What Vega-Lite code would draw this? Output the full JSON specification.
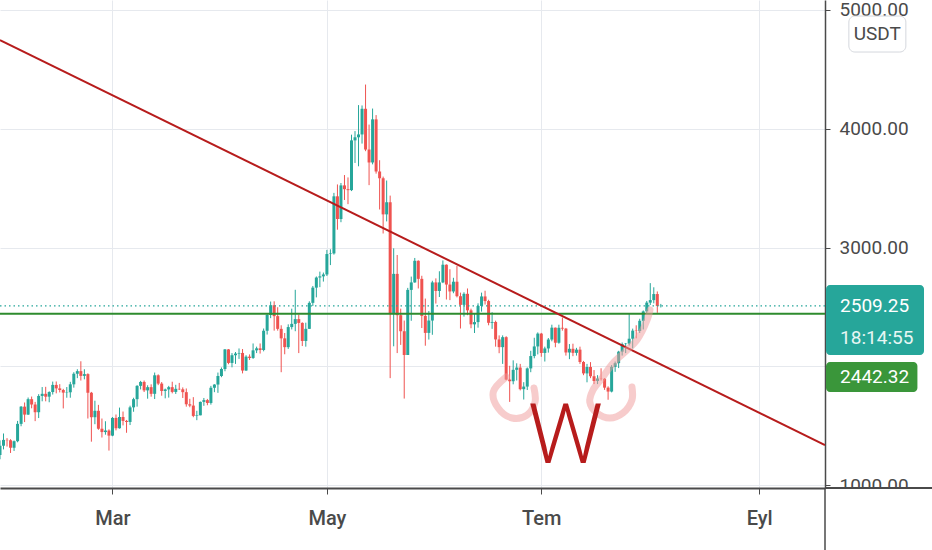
{
  "$schema": "https://vega.github.io/schema/vega-lite/v6.json",
  "width": 825,
  "height": 488,
  "autosize": {"type": "none"},
  "padding": {"left": 0, "top": 0, "right": 107, "bottom": 62},
  "background": "#ffffff",
  "config": {
    "view": {"stroke": null},
    "font": "Roboto, sans-serif",
    "axis": {
      "labelFont": "Roboto, sans-serif",
      "labelFontSize": 19,
      "labelColor": "#4a4a4a",
      "domainColor": "#4a4a4a",
      "tickColor": "#4a4a4a",
      "gridColor": "#e6e9ee",
      "gridWidth": 1
    }
  },
  "datasets": {
    "candles": [
      {"d":"2021-01-28","o":1253,"h":1376,"l":1217,"c":1331},
      {"d":"2021-01-29","o":1331,"h":1434,"l":1300,"c":1380},
      {"d":"2021-01-30","o":1380,"h":1395,"l":1324,"c":1377},
      {"d":"2021-01-31","o":1377,"h":1386,"l":1270,"c":1314},
      {"d":"2021-02-01","o":1314,"h":1375,"l":1287,"c":1369},
      {"d":"2021-02-02","o":1369,"h":1540,"l":1360,"c":1515},
      {"d":"2021-02-03","o":1515,"h":1665,"l":1495,"c":1660},
      {"d":"2021-02-04","o":1660,"h":1695,"l":1530,"c":1593},
      {"d":"2021-02-05","o":1593,"h":1737,"l":1590,"c":1723},
      {"d":"2021-02-06","o":1723,"h":1745,"l":1646,"c":1678},
      {"d":"2021-02-07","o":1678,"h":1700,"l":1538,"c":1613},
      {"d":"2021-02-08","o":1613,"h":1765,"l":1564,"c":1750},
      {"d":"2021-02-09","o":1750,"h":1825,"l":1705,"c":1768},
      {"d":"2021-02-10","o":1768,"h":1827,"l":1705,"c":1744},
      {"d":"2021-02-11","o":1744,"h":1789,"l":1697,"c":1783},
      {"d":"2021-02-12","o":1783,"h":1871,"l":1762,"c":1843},
      {"d":"2021-02-13","o":1843,"h":1872,"l":1772,"c":1814},
      {"d":"2021-02-14","o":1814,"h":1849,"l":1780,"c":1800},
      {"d":"2021-02-15","o":1800,"h":1810,"l":1645,"c":1778},
      {"d":"2021-02-16","o":1778,"h":1825,"l":1735,"c":1781},
      {"d":"2021-02-17","o":1781,"h":1869,"l":1735,"c":1848},
      {"d":"2021-02-18","o":1848,"h":1950,"l":1820,"c":1937},
      {"d":"2021-02-19","o":1937,"h":1975,"l":1900,"c":1959},
      {"d":"2021-02-20","o":1959,"h":2042,"l":1880,"c":1919},
      {"d":"2021-02-21","o":1919,"h":1975,"l":1890,"c":1934},
      {"d":"2021-02-22","o":1934,"h":1941,"l":1560,"c":1777},
      {"d":"2021-02-23","o":1777,"h":1784,"l":1365,"c":1571},
      {"d":"2021-02-24","o":1571,"h":1710,"l":1512,"c":1625},
      {"d":"2021-02-25","o":1625,"h":1675,"l":1465,"c":1474},
      {"d":"2021-02-26","o":1474,"h":1560,"l":1400,"c":1446},
      {"d":"2021-02-27","o":1446,"h":1537,"l":1424,"c":1459},
      {"d":"2021-02-28","o":1459,"h":1469,"l":1290,"c":1416},
      {"d":"2021-03-01","o":1416,"h":1573,"l":1411,"c":1565},
      {"d":"2021-03-02","o":1565,"h":1594,"l":1460,"c":1478},
      {"d":"2021-03-03","o":1478,"h":1652,"l":1475,"c":1573},
      {"d":"2021-03-04","o":1573,"h":1619,"l":1502,"c":1540},
      {"d":"2021-03-05","o":1540,"h":1548,"l":1440,"c":1531},
      {"d":"2021-03-06","o":1531,"h":1668,"l":1505,"c":1654},
      {"d":"2021-03-07","o":1654,"h":1735,"l":1617,"c":1723},
      {"d":"2021-03-08","o":1723,"h":1841,"l":1660,"c":1835},
      {"d":"2021-03-09","o":1835,"h":1877,"l":1805,"c":1868},
      {"d":"2021-03-10","o":1868,"h":1880,"l":1783,"c":1797},
      {"d":"2021-03-11","o":1797,"h":1840,"l":1727,"c":1824},
      {"d":"2021-03-12","o":1824,"h":1848,"l":1744,"c":1768},
      {"d":"2021-03-13","o":1768,"h":1947,"l":1724,"c":1924},
      {"d":"2021-03-14","o":1924,"h":1932,"l":1841,"c":1854},
      {"d":"2021-03-15","o":1854,"h":1867,"l":1752,"c":1792},
      {"d":"2021-03-16","o":1792,"h":1812,"l":1730,"c":1805},
      {"d":"2021-03-17","o":1805,"h":1835,"l":1736,"c":1824},
      {"d":"2021-03-18","o":1824,"h":1870,"l":1772,"c":1784},
      {"d":"2021-03-19","o":1784,"h":1844,"l":1767,"c":1810},
      {"d":"2021-03-20","o":1810,"h":1860,"l":1800,"c":1806},
      {"d":"2021-03-21","o":1806,"h":1822,"l":1733,"c":1782},
      {"d":"2021-03-22","o":1782,"h":1813,"l":1660,"c":1680},
      {"d":"2021-03-23","o":1680,"h":1726,"l":1655,"c":1669},
      {"d":"2021-03-24","o":1669,"h":1740,"l":1571,"c":1582},
      {"d":"2021-03-25","o":1582,"h":1625,"l":1546,"c":1587},
      {"d":"2021-03-26","o":1587,"h":1703,"l":1587,"c":1700},
      {"d":"2021-03-27","o":1700,"h":1733,"l":1667,"c":1715},
      {"d":"2021-03-28","o":1715,"h":1725,"l":1672,"c":1691},
      {"d":"2021-03-29","o":1691,"h":1835,"l":1677,"c":1819},
      {"d":"2021-03-30","o":1819,"h":1849,"l":1782,"c":1846},
      {"d":"2021-03-31","o":1846,"h":1947,"l":1776,"c":1918},
      {"d":"2021-04-01","o":1918,"h":1990,"l":1908,"c":1977},
      {"d":"2021-04-02","o":1977,"h":2145,"l":1958,"c":2142},
      {"d":"2021-04-03","o":2142,"h":2145,"l":2017,"c":2028},
      {"d":"2021-04-04","o":2028,"h":2111,"l":1991,"c":2093},
      {"d":"2021-04-05","o":2093,"h":2120,"l":2020,"c":2107},
      {"d":"2021-04-06","o":2107,"h":2150,"l":2062,"c":2112},
      {"d":"2021-04-07","o":2112,"h":2145,"l":1940,"c":1964},
      {"d":"2021-04-08","o":1964,"h":2093,"l":1961,"c":2081},
      {"d":"2021-04-09","o":2081,"h":2100,"l":2053,"c":2070},
      {"d":"2021-04-10","o":2070,"h":2192,"l":2062,"c":2134},
      {"d":"2021-04-11","o":2134,"h":2165,"l":2111,"c":2151},
      {"d":"2021-04-12","o":2151,"h":2192,"l":2107,"c":2137},
      {"d":"2021-04-13","o":2137,"h":2318,"l":2126,"c":2299},
      {"d":"2021-04-14","o":2299,"h":2448,"l":2267,"c":2432},
      {"d":"2021-04-15","o":2432,"h":2545,"l":2405,"c":2514},
      {"d":"2021-04-16","o":2514,"h":2547,"l":2300,"c":2422},
      {"d":"2021-04-17","o":2422,"h":2497,"l":2300,"c":2315},
      {"d":"2021-04-18","o":2315,"h":2345,"l":1950,"c":2235},
      {"d":"2021-04-19","o":2235,"h":2280,"l":2101,"c":2161},
      {"d":"2021-04-20","o":2161,"h":2353,"l":2146,"c":2330},
      {"d":"2021-04-21","o":2330,"h":2485,"l":2310,"c":2357},
      {"d":"2021-04-22","o":2357,"h":2644,"l":2295,"c":2397},
      {"d":"2021-04-23","o":2397,"h":2435,"l":2111,"c":2365},
      {"d":"2021-04-24","o":2365,"h":2370,"l":2170,"c":2213},
      {"d":"2021-04-25","o":2213,"h":2367,"l":2165,"c":2315},
      {"d":"2021-04-26","o":2315,"h":2547,"l":2314,"c":2534},
      {"d":"2021-04-27","o":2534,"h":2676,"l":2507,"c":2662},
      {"d":"2021-04-28","o":2662,"h":2756,"l":2580,"c":2747},
      {"d":"2021-04-29","o":2747,"h":2797,"l":2666,"c":2757},
      {"d":"2021-04-30","o":2757,"h":2789,"l":2713,"c":2773},
      {"d":"2021-05-01","o":2773,"h":2980,"l":2760,"c":2945},
      {"d":"2021-05-02","o":2945,"h":2985,"l":2852,"c":2950},
      {"d":"2021-05-03","o":2950,"h":3460,"l":2940,"c":3431},
      {"d":"2021-05-04","o":3431,"h":3531,"l":3150,"c":3240},
      {"d":"2021-05-05","o":3240,"h":3543,"l":3213,"c":3523},
      {"d":"2021-05-06","o":3523,"h":3610,"l":3400,"c":3491},
      {"d":"2021-05-07","o":3491,"h":3590,"l":3365,"c":3483},
      {"d":"2021-05-08","o":3483,"h":3950,"l":3475,"c":3902},
      {"d":"2021-05-09","o":3902,"h":3980,"l":3712,"c":3928},
      {"d":"2021-05-10","o":3928,"h":4199,"l":3684,"c":3952},
      {"d":"2021-05-11","o":3952,"h":4196,"l":3875,"c":4168},
      {"d":"2021-05-12","o":4168,"h":4372,"l":3811,"c":3825},
      {"d":"2021-05-13","o":3825,"h":4035,"l":3525,"c":3716},
      {"d":"2021-05-14","o":3716,"h":4170,"l":3700,"c":4079},
      {"d":"2021-05-15","o":4079,"h":4115,"l":3622,"c":3640},
      {"d":"2021-05-16","o":3640,"h":3735,"l":3320,"c":3583},
      {"d":"2021-05-17","o":3583,"h":3597,"l":3118,"c":3279},
      {"d":"2021-05-18","o":3279,"h":3564,"l":3220,"c":3381},
      {"d":"2021-05-19","o":3381,"h":3437,"l":1900,"c":2439},
      {"d":"2021-05-20","o":2439,"h":2993,"l":2168,"c":2778},
      {"d":"2021-05-21","o":2778,"h":2937,"l":2111,"c":2430},
      {"d":"2021-05-22","o":2430,"h":2485,"l":2180,"c":2295},
      {"d":"2021-05-23","o":2295,"h":2385,"l":1728,"c":2095},
      {"d":"2021-05-24","o":2095,"h":2660,"l":2095,"c":2643},
      {"d":"2021-05-25","o":2643,"h":2755,"l":2383,"c":2706},
      {"d":"2021-05-26","o":2706,"h":2912,"l":2703,"c":2888},
      {"d":"2021-05-27","o":2888,"h":2892,"l":2655,"c":2736},
      {"d":"2021-05-28","o":2736,"h":2762,"l":2322,"c":2424},
      {"d":"2021-05-29","o":2424,"h":2570,"l":2173,"c":2281},
      {"d":"2021-05-30","o":2281,"h":2465,"l":2225,"c":2385},
      {"d":"2021-05-31","o":2385,"h":2720,"l":2265,"c":2706},
      {"d":"2021-06-01","o":2706,"h":2740,"l":2528,"c":2634},
      {"d":"2021-06-02","o":2634,"h":2800,"l":2583,"c":2706},
      {"d":"2021-06-03","o":2706,"h":2891,"l":2700,"c":2855},
      {"d":"2021-06-04","o":2855,"h":2858,"l":2562,"c":2688},
      {"d":"2021-06-05","o":2688,"h":2817,"l":2557,"c":2630},
      {"d":"2021-06-06","o":2630,"h":2745,"l":2615,"c":2712},
      {"d":"2021-06-07","o":2712,"h":2845,"l":2580,"c":2590},
      {"d":"2021-06-08","o":2590,"h":2620,"l":2318,"c":2517},
      {"d":"2021-06-09","o":2517,"h":2623,"l":2418,"c":2610},
      {"d":"2021-06-10","o":2610,"h":2655,"l":2430,"c":2471},
      {"d":"2021-06-11","o":2471,"h":2485,"l":2320,"c":2353},
      {"d":"2021-06-12","o":2353,"h":2444,"l":2280,"c":2372},
      {"d":"2021-06-13","o":2372,"h":2530,"l":2325,"c":2508},
      {"d":"2021-06-14","o":2508,"h":2620,"l":2460,"c":2588},
      {"d":"2021-06-15","o":2588,"h":2636,"l":2520,"c":2549},
      {"d":"2021-06-16","o":2549,"h":2560,"l":2345,"c":2366},
      {"d":"2021-06-17","o":2366,"h":2455,"l":2315,"c":2373},
      {"d":"2021-06-18","o":2373,"h":2384,"l":2165,"c":2226},
      {"d":"2021-06-19","o":2226,"h":2260,"l":2110,"c":2161},
      {"d":"2021-06-20","o":2161,"h":2260,"l":2020,"c":2245},
      {"d":"2021-06-21","o":2245,"h":2253,"l":1882,"c":1888},
      {"d":"2021-06-22","o":1888,"h":2004,"l":1700,"c":1874},
      {"d":"2021-06-23","o":1874,"h":2050,"l":1848,"c":1970},
      {"d":"2021-06-24","o":1970,"h":2025,"l":1880,"c":1989},
      {"d":"2021-06-25","o":1989,"h":2020,"l":1797,"c":1807},
      {"d":"2021-06-26","o":1807,"h":1866,"l":1720,"c":1829},
      {"d":"2021-06-27","o":1829,"h":1990,"l":1800,"c":1982},
      {"d":"2021-06-28","o":1982,"h":2130,"l":1950,"c":2086},
      {"d":"2021-06-29","o":2086,"h":2240,"l":2067,"c":2167},
      {"d":"2021-06-30","o":2167,"h":2285,"l":2100,"c":2275},
      {"d":"2021-07-01","o":2275,"h":2281,"l":2080,"c":2112},
      {"d":"2021-07-02","o":2112,"h":2165,"l":2040,"c":2150},
      {"d":"2021-07-03","o":2150,"h":2238,"l":2115,"c":2225},
      {"d":"2021-07-04","o":2225,"h":2350,"l":2210,"c":2325},
      {"d":"2021-07-05","o":2325,"h":2326,"l":2160,"c":2198},
      {"d":"2021-07-06","o":2198,"h":2350,"l":2190,"c":2324},
      {"d":"2021-07-07","o":2324,"h":2410,"l":2300,"c":2317},
      {"d":"2021-07-08","o":2317,"h":2323,"l":2090,"c":2116},
      {"d":"2021-07-09","o":2116,"h":2187,"l":2060,"c":2147},
      {"d":"2021-07-10","o":2147,"h":2190,"l":2085,"c":2113},
      {"d":"2021-07-11","o":2113,"h":2155,"l":2090,"c":2140},
      {"d":"2021-07-12","o":2140,"h":2165,"l":2020,"c":2036},
      {"d":"2021-07-13","o":2036,"h":2045,"l":1925,"c":1940},
      {"d":"2021-07-14","o":1940,"h":2020,"l":1865,"c":1994},
      {"d":"2021-07-15","o":1994,"h":2035,"l":1900,"c":1916},
      {"d":"2021-07-16","o":1916,"h":1968,"l":1850,"c":1876},
      {"d":"2021-07-17","o":1876,"h":1925,"l":1850,"c":1897},
      {"d":"2021-07-18","o":1897,"h":1983,"l":1880,"c":1895},
      {"d":"2021-07-19","o":1895,"h":1900,"l":1801,"c":1820},
      {"d":"2021-07-20","o":1820,"h":1831,"l":1718,"c":1787},
      {"d":"2021-07-21","o":1787,"h":2010,"l":1780,"c":1995},
      {"d":"2021-07-22","o":1995,"h":2040,"l":1953,"c":2026},
      {"d":"2021-07-23","o":2026,"h":2130,"l":1985,"c":2123},
      {"d":"2021-07-24","o":2123,"h":2200,"l":2090,"c":2187},
      {"d":"2021-07-25","o":2187,"h":2196,"l":2111,"c":2191},
      {"d":"2021-07-26","o":2191,"h":2440,"l":2175,"c":2232},
      {"d":"2021-07-27","o":2232,"h":2317,"l":2150,"c":2300},
      {"d":"2021-07-28","o":2300,"h":2345,"l":2235,"c":2297},
      {"d":"2021-07-29","o":2297,"h":2400,"l":2280,"c":2383},
      {"d":"2021-07-30","o":2383,"h":2470,"l":2310,"c":2462},
      {"d":"2021-07-31","o":2462,"h":2550,"l":2440,"c":2536},
      {"d":"2021-08-01","o":2536,"h":2700,"l":2516,"c":2557},
      {"d":"2021-08-02","o":2557,"h":2665,"l":2530,"c":2608},
      {"d":"2021-08-03","o":2608,"h":2630,"l":2450,"c":2508},
      {"d":"2021-08-04","o":2508,"h":2525,"l":2495,"c":2509.25}
    ],
    "sketch": [
      {"seg":"a","i":1,"d":"2021-06-21T00:00:00Z","p":1909},
      {"seg":"a","i":2,"d":"2021-06-17T08:00:00Z","p":1783},
      {"seg":"a","i":3,"d":"2021-06-18T17:00:00Z","p":1648},
      {"seg":"a","i":4,"d":"2021-06-22T17:00:00Z","p":1564},
      {"seg":"a","i":5,"d":"2021-06-26T22:00:00Z","p":1589},
      {"seg":"a","i":6,"d":"2021-06-29T05:00:00Z","p":1699},
      {"seg":"a","i":7,"d":"2021-06-28T22:00:00Z","p":1817},
      {"seg":"b","i":1,"d":"2021-07-31T22:00:00Z","p":2474},
      {"seg":"b","i":2,"d":"2021-07-31T02:00:00Z","p":2389},
      {"seg":"b","i":3,"d":"2021-07-28T05:00:00Z","p":2221},
      {"seg":"b","i":4,"d":"2021-07-25T10:00:00Z","p":2137},
      {"seg":"b","i":5,"d":"2021-07-21T10:00:00Z","p":2027},
      {"seg":"b","i":6,"d":"2021-07-18T12:00:00Z","p":1909},
      {"seg":"b","i":7,"d":"2021-07-15T17:00:00Z","p":1800},
      {"seg":"b","i":8,"d":"2021-07-14T19:00:00Z","p":1699},
      {"seg":"b","i":9,"d":"2021-07-16T19:00:00Z","p":1606},
      {"seg":"b","i":10,"d":"2021-07-20T12:00:00Z","p":1564},
      {"seg":"b","i":11,"d":"2021-07-24T05:00:00Z","p":1606},
      {"seg":"b","i":12,"d":"2021-07-26T19:00:00Z","p":1716},
      {"seg":"b","i":13,"d":"2021-07-26T19:00:00Z","p":1825}
    ],
    "trend": [
      {"d":"2021-01-28T00:00:00Z","p":4747},
      {"d":"2021-09-19T17:00:00Z","p":1337}
    ]
  },
  "layer": [
    {
      "data": {"name": "candles"},
      "mark": {"type": "rule", "strokeWidth": 1},
      "encoding": {
        "x": {
          "field": "d",
          "type": "temporal",
          "title": null,
          "scale": {
            "type": "utc",
            "nice": false,
            "domain": [
              {"year": 2021, "month": 1, "date": 28, "utc": true},
              {"year": 2021, "month": 9, "date": 19, "hours": 17, "utc": true}
            ]
          },
          "axis": {
            "orient": "bottom",
            "values": [
              {"year": 2021, "month": 3, "date": 1, "utc": true},
              {"year": 2021, "month": 5, "date": 1, "utc": true},
              {"year": 2021, "month": 7, "date": 1, "utc": true},
              {"year": 2021, "month": 9, "date": 1, "utc": true}
            ],
            "labelExpr": "['Oca','Şub','Mar','Nis','May','Haz','Tem','Ağu','Eyl','Eki','Kas','Ara'][utcmonth(datum.value)]",
            "grid": true,
            "domainWidth": 2,
            "tickSize": 6,
            "labelPadding": 24,
            "labelFontSize": 20,
            "labelFontWeight": 500,
            "labelBaseline": "middle",
            "labelFlush": false,
            "labelOverlap": false
          }
        },
        "y": {
          "field": "l",
          "type": "quantitative",
          "title": null,
          "scale": {"domain": [975, 5084], "nice": false, "zero": false},
          "axis": {
            "orient": "right",
            "values": [1000, 2000, 3000, 4000, 5000],
            "format": ".2f",
            "labelExpr": "datum.value == 2000 ? '' : datum.label",
            "grid": true,
            "domainWidth": 1.5,
            "tickSize": 5,
            "labelPadding": 9,
            "labelAlign": "left",
            "labelBaseline": "middle",
            "labelFlush": false,
            "labelOverlap": false
          }
        },
        "y2": {"field": "h"},
        "color": {"condition": {"test": "datum.c >= datum.o", "value": "#26a69a"}, "value": "#ef5350"}
      }
    },
    {
      "data": {"name": "candles"},
      "mark": {"type": "rule", "strokeWidth": 3, "strokeCap": "butt"},
      "encoding": {
        "x": {"field": "d", "type": "temporal", "title": null},
        "y": {"field": "o", "type": "quantitative", "title": null},
        "y2": {"field": "c"},
        "color": {"condition": {"test": "datum.c >= datum.o", "value": "#26a69a"}, "value": "#ef5350"}
      }
    },
    {
      "data": {"values": [{"p": 2509.25}]},
      "mark": {"type": "rule", "color": "#26a69a", "strokeWidth": 1.2, "strokeDash": [1.5, 3]},
      "encoding": {"y": {"field": "p", "type": "quantitative", "title": null}}
    },
    {
      "data": {"values": [{"p": 2442.32}]},
      "mark": {"type": "rule", "color": "#2e8b2e", "strokeWidth": 2},
      "encoding": {"y": {"field": "p", "type": "quantitative", "title": null}}
    },
    {
      "data": {"name": "trend"},
      "mark": {"type": "line", "color": "#b71c1c", "strokeWidth": 2, "clip": true},
      "encoding": {
        "x": {"field": "d", "type": "temporal", "title": null},
        "y": {"field": "p", "type": "quantitative", "title": null}
      }
    },
    {
      "data": {"name": "sketch"},
      "mark": {"type": "line", "color": "#ef9a9a", "opacity": 0.5, "strokeWidth": 7, "strokeCap": "round", "strokeJoin": "round", "interpolate": "catmull-rom"},
      "encoding": {
        "x": {"field": "d", "type": "temporal", "title": null},
        "y": {"field": "p", "type": "quantitative", "title": null},
        "detail": {"field": "seg"},
        "order": {"field": "i", "type": "quantitative"}
      }
    },
    {
      "data": {"values": [{"t": "W", "p": 1185}]},
      "mark": {"type": "text", "color": "#b71c1c", "fontSize": 84, "fontWeight": 300, "align": "center", "baseline": "alphabetic"},
      "encoding": {
        "x": {"datum": {"year": 2021, "month": 7, "date": 7, "hours": 21, "utc": true}, "type": "temporal", "title": null},
        "y": {"field": "p", "type": "quantitative", "title": null},
        "text": {"field": "t"}
      }
    },
    {
      "data": {"values": [{"p": 975}]},
      "mark": {"type": "rect", "color": "#ffffff", "clip": false},
      "encoding": {
        "x": {"datum": {"year": 2021, "month": 9, "date": 20, "utc": true}, "type": "temporal", "title": null},
        "x2": {"datum": {"year": 2021, "month": 10, "date": 25, "utc": true}},
        "y": {"field": "p", "type": "quantitative", "title": null},
        "y2": {"datum": 440}
      }
    },
    {
      "data": {"values": [{"p": 975}]},
      "mark": {"type": "rule", "color": "#4a4a4a", "strokeWidth": 2, "clip": false},
      "encoding": {
        "x": {"datum": {"year": 2021, "month": 9, "date": 19, "hours": 17, "utc": true}, "type": "temporal", "title": null},
        "x2": {"datum": {"year": 2021, "month": 10, "date": 25, "utc": true}},
        "y": {"field": "p", "type": "quantitative", "title": null}
      }
    },
    {
      "data": {"values": [{"p": 975}]},
      "mark": {"type": "rule", "color": "#4a4a4a", "strokeWidth": 1.5, "clip": false},
      "encoding": {
        "x": {"datum": {"year": 2021, "month": 9, "date": 19, "hours": 17, "utc": true}, "type": "temporal", "title": null},
        "y": {"field": "p", "type": "quantitative", "title": null},
        "y2": {"datum": 440}
      }
    },
    {
      "data": {"values": [{"p": 2509.25}]},
      "mark": {"type": "rect", "color": "#26a69a", "cornerRadius": 4, "clip": false},
      "encoding": {
        "x": {"datum": {"year": 2021, "month": 9, "date": 20, "utc": true}, "type": "temporal", "title": null},
        "x2": {"datum": {"year": 2021, "month": 10, "date": 17, "hours": 21, "utc": true}},
        "y": {"datum": 2684, "type": "quantitative", "title": null},
        "y2": {"datum": 2095}
      }
    },
    {
      "data": {"values": [{"p": 2442.32}]},
      "mark": {"type": "rect", "color": "#3a963a", "cornerRadius": 4, "clip": false},
      "encoding": {
        "x": {"datum": {"year": 2021, "month": 9, "date": 20, "utc": true}, "type": "temporal", "title": null},
        "x2": {"datum": {"year": 2021, "month": 10, "date": 16, "utc": true}},
        "y": {"datum": 2036, "type": "quantitative", "title": null},
        "y2": {"datum": 1783}
      }
    },
    {
      "data": {"values": [{"t": "2509.25", "p": 2509.25}]},
      "mark": {"type": "text", "color": "#ffffff", "fontSize": 19, "align": "left", "baseline": "middle", "clip": false},
      "encoding": {
        "x": {"datum": {"year": 2021, "month": 9, "date": 24, "utc": true}, "type": "temporal", "title": null},
        "y": {"field": "p", "type": "quantitative", "title": null},
        "text": {"field": "t"}
      }
    },
    {
      "data": {"values": [{"t": "18:14:55", "p": 2509.25}]},
      "mark": {"type": "text", "color": "#e6f6f4", "fontSize": 19, "align": "left", "baseline": "middle", "dy": 32, "clip": false},
      "encoding": {
        "x": {"datum": {"year": 2021, "month": 9, "date": 24, "utc": true}, "type": "temporal", "title": null},
        "y": {"field": "p", "type": "quantitative", "title": null},
        "text": {"field": "t"}
      }
    },
    {
      "data": {"values": [{"t": "2442.32", "p": 1909}]},
      "mark": {"type": "text", "color": "#ffffff", "fontSize": 19, "align": "left", "baseline": "middle", "clip": false},
      "encoding": {
        "x": {"datum": {"year": 2021, "month": 9, "date": 24, "utc": true}, "type": "temporal", "title": null},
        "y": {"field": "p", "type": "quantitative", "title": null},
        "text": {"field": "t"}
      }
    },
    {
      "data": {"values": [{"t": "USDT"}]},
      "mark": {"type": "rect", "fill": "#ffffff", "stroke": "#d4d7dd", "strokeWidth": 1, "cornerRadius": 6, "clip": false},
      "encoding": {
        "x": {"datum": {"year": 2021, "month": 9, "date": 26, "hours": 12, "utc": true}, "type": "temporal", "title": null},
        "x2": {"datum": {"year": 2021, "month": 10, "date": 12, "hours": 17, "utc": true}},
        "y": {"datum": 4949, "type": "quantitative", "title": null},
        "y2": {"datum": 4646}
      }
    },
    {
      "data": {"values": [{"t": "USDT"}]},
      "mark": {"type": "text", "color": "#4a4a4a", "fontSize": 19, "align": "center", "baseline": "middle", "clip": false},
      "encoding": {
        "x": {"datum": {"year": 2021, "month": 10, "date": 4, "hours": 14, "utc": true}, "type": "temporal", "title": null},
        "y": {"datum": 4798, "type": "quantitative", "title": null},
        "text": {"field": "t"}
      }
    }
  ]
}
